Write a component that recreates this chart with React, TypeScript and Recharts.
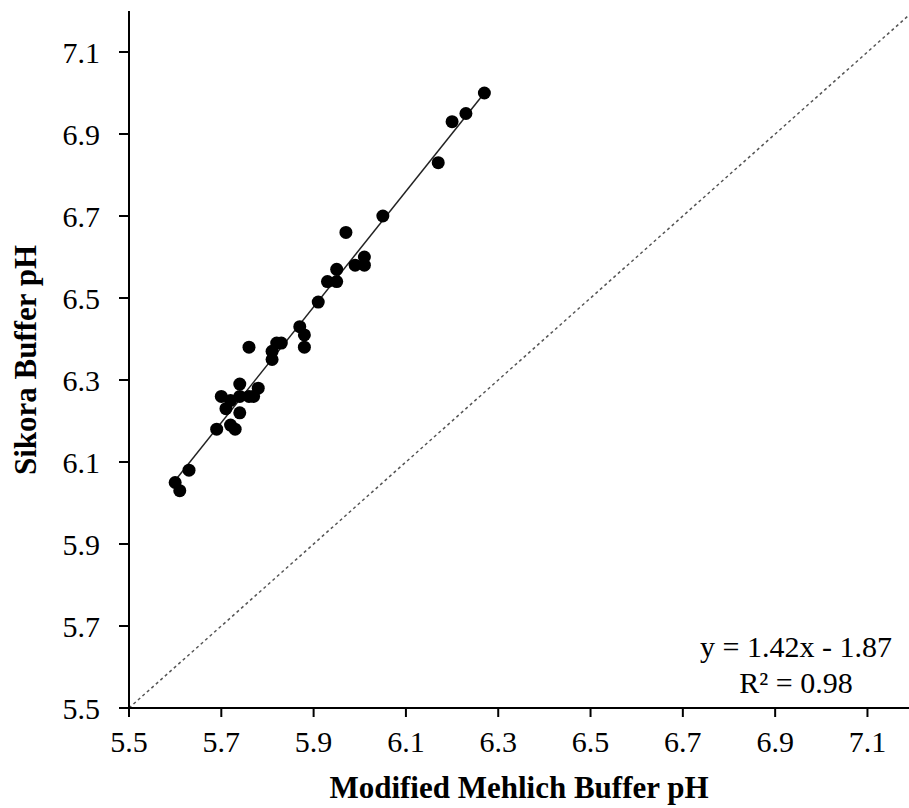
import React from "react";
import { ScatterChart, Scatter, XAxis, YAxis, ReferenceLine, Customized } from "recharts";

const SERIF = '"Liberation Serif", "Times New Roman", serif';

// Modified Mehlich buffer pH (x) vs Sikora buffer pH (y)
const mehlichPH = [
  5.6, 5.61, 5.63, 5.69, 5.72, 5.73, 5.7, 5.71, 5.72, 5.74, 5.74, 5.74,
  5.76, 5.77, 5.78, 5.76, 5.81, 5.81, 5.82, 5.83, 5.87, 5.88, 5.88, 5.91,
  5.93, 5.95, 5.95, 5.97, 5.99, 6.01, 6.01, 6.05, 6.17, 6.2, 6.23, 6.27,
];
const sikoraPH = [
  6.05, 6.03, 6.08, 6.18, 6.19, 6.18, 6.26, 6.23, 6.25, 6.29, 6.22, 6.26,
  6.26, 6.26, 6.28, 6.38, 6.35, 6.37, 6.39, 6.39, 6.43, 6.41, 6.38, 6.49,
  6.54, 6.57, 6.54, 6.66, 6.58, 6.6, 6.58, 6.7, 6.83, 6.93, 6.95, 7.0,
];

const xTicks = [5.5, 5.7, 5.9, 6.1, 6.3, 6.5, 6.7, 6.9, 7.1];
const yTicks = [5.5, 5.7, 5.9, 6.1, 6.3, 6.5, 6.7, 6.9, 7.1];

// fitted line ends
const trendX = [5.6, 6.27];
const trendY = [6.055, 7.0];

// 1:1 line
const oneToOne = [5.5, 7.19];

const points = mehlichPH.map((x, i) => ({ x, y: sikoraPH[i] }));

const tickStyle = { fill: "#000", fontSize: 30, fontFamily: SERIF };

function Annotations() {
  return (
    <g fontFamily={SERIF} fill="#000">
      <text x={796} y={657} fontSize={30} textAnchor="middle">
        y = 1.42x - 1.87
      </text>
      <text x={796} y={693} fontSize={30} textAnchor="middle">
        R² = 0.98
      </text>
      <text x={519} y={798} fontSize={31} fontWeight="bold" textAnchor="middle">
        Modified Mehlich Buffer pH
      </text>
      <text
        x={36}
        y={360}
        fontSize={31}
        fontWeight="bold"
        textAnchor="middle"
        transform="rotate(-90, 36, 360)"
      >
        Sikora Buffer pH
      </text>
    </g>
  );
}

export default function App() {
  return (
    <div style={{ position: "absolute", left: 0, top: 0, width: 909, height: 808, background: "#fff" }}>
      <ScatterChart width={909} height={808} margin={{ top: 11, right: 0, bottom: 0, left: 0 }}>
        <XAxis
          type="number"
          dataKey="x"
          domain={[5.5, 7.19]}
          ticks={xTicks}
          allowDataOverflow
          height={100}
          tick={tickStyle}
          tickFormatter={(v: number) => v.toFixed(1)}
          tickSize={9}
          tickMargin={14}
          axisLine={{ stroke: "#000", strokeWidth: 2 }}
          tickLine={{ stroke: "#000", strokeWidth: 2 }}
        />
        <YAxis
          type="number"
          dataKey="y"
          domain={[5.5, 7.2]}
          ticks={yTicks}
          allowDataOverflow
          width={129}
          tick={tickStyle}
          tickFormatter={(v: number) => v.toFixed(1)}
          tickSize={10}
          tickMargin={19}
          axisLine={{ stroke: "#000", strokeWidth: 2 }}
          tickLine={{ stroke: "#000", strokeWidth: 2 }}
        />
        <ReferenceLine
          segment={[
            { x: oneToOne[0], y: oneToOne[0] },
            { x: oneToOne[1], y: oneToOne[1] },
          ]}
          stroke="#555"
          strokeWidth={1.5}
          strokeDasharray="3 3"
        />
        <ReferenceLine
          segment={[
            { x: trendX[0], y: trendY[0] },
            { x: trendX[1], y: trendY[1] },
          ]}
          stroke="#222"
          strokeWidth={1.5}
        />
        <Scatter
          data={points}
          isAnimationActive={false}
          shape={(p: any) => <circle cx={p.cx} cy={p.cy} r={6.5} fill="#000" />}
        />
        <Customized component={Annotations} />
      </ScatterChart>
    </div>
  );
}
